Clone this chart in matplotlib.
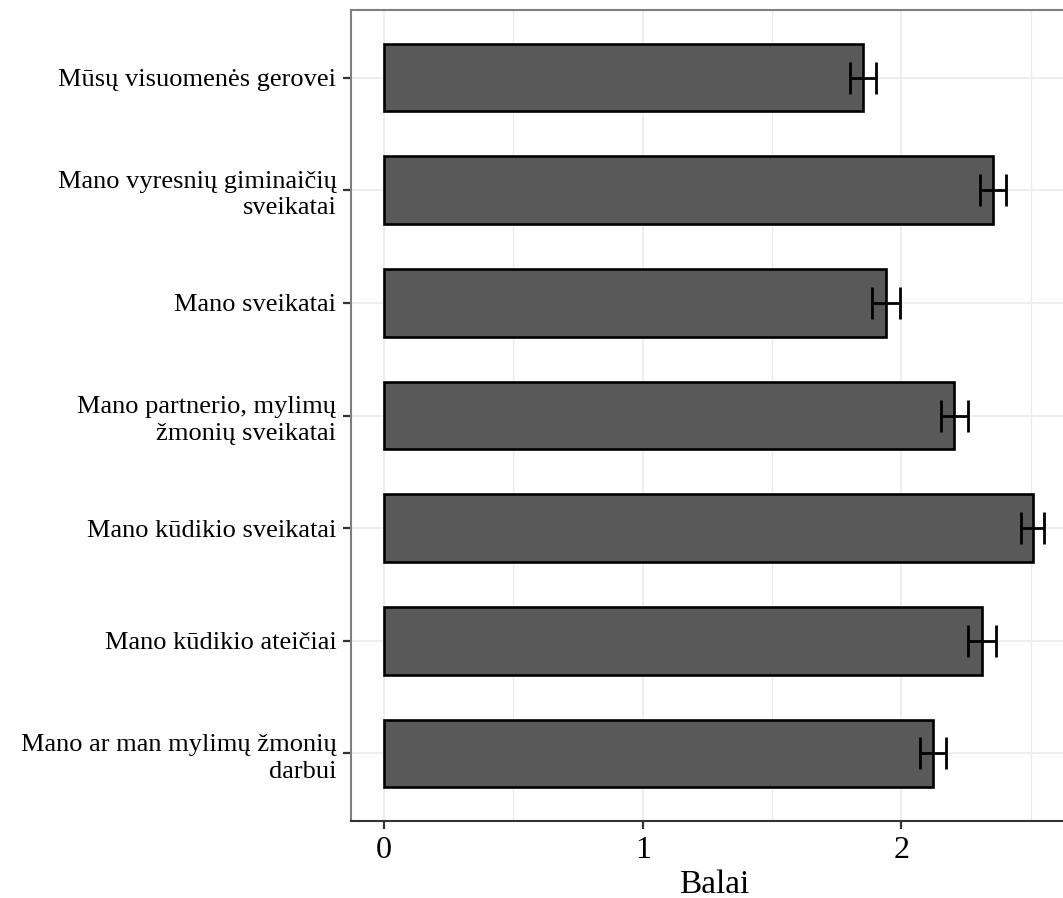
import matplotlib
matplotlib.use("Agg")
import matplotlib.pyplot as plt
from matplotlib.ticker import MultipleLocator

plt.rcParams['font.family'] = ['Liberation Serif', 'DejaVu Serif']

labels = [
    "Mūsų visuomenės gerovei",
    "Mano vyresnių giminaičių\nsveikatai",
    "Mano sveikatai",
    "Mano partnerio, mylimų\nžmonių sveikatai",
    "Mano kūdikio sveikatai",
    "Mano kūdikio ateičiai",
    "Mano ar man mylimų žmonių\ndarbui",
]
means = [1.851, 2.354, 1.941, 2.204, 2.508, 2.311, 2.123]
errors = [0.050, 0.049, 0.055, 0.052, 0.045, 0.053, 0.050]

W, H = 1063, 898
fig = plt.figure(figsize=(W / 100, H / 100), dpi=100)

# panel in pixels: left 351, top 10, bottom 821; right edge runs off the image
hi = max(m + e for m, e in zip(means, errors))
x0, x1 = -0.05 * hi, 1.05 * hi
px_per_unit = 258.7
left_px = 351
right_px = left_px + (x1 - x0) * px_per_unit
ax = fig.add_axes([left_px / W, (H - 821) / H, (right_px - left_px) / W, 811 / H])

pos = list(range(len(labels)))[::-1]
ax.barh(pos, means, height=0.6, color='#595959', edgecolor='black',
        linewidth=1.9, zorder=3)
ax.errorbar(means, pos, xerr=errors, fmt='none', ecolor='black',
            elinewidth=2.0, capsize=11.5, capthick=2.0, zorder=4)

ax.set_xlim(x0, x1)
ax.set_ylim(-0.6, len(labels) - 0.4)
ax.xaxis.set_major_locator(MultipleLocator(1))
ax.xaxis.set_minor_locator(MultipleLocator(0.5))
ax.set_yticks(pos)
ax.set_yticklabels(labels, fontsize=19, linespacing=1.28)
ax.tick_params(axis='x', which='major', labelsize=23, length=5.5, width=1.6,
               color='#333333', pad=5)
ax.tick_params(axis='x', which='minor', length=0)
ax.tick_params(axis='y', length=5.5, width=1.6, color='#333333', pad=5)

ax.grid(True, which='major', color='#ebebeb', linewidth=1.2, zorder=0)
ax.grid(True, which='minor', axis='x', color='#ebebeb', linewidth=0.9, zorder=0)
ax.set_axisbelow(True)

for side in ['top', 'left', 'right']:
    ax.spines[side].set_color('#7f7f7f')
    ax.spines[side].set_linewidth(1.5)
ax.spines['bottom'].set_color('#333333')
ax.spines['bottom'].set_linewidth(1.5)

ax.set_xlabel("Balai", fontsize=24, labelpad=3.5)

fig.savefig("out.png", dpi=100)
